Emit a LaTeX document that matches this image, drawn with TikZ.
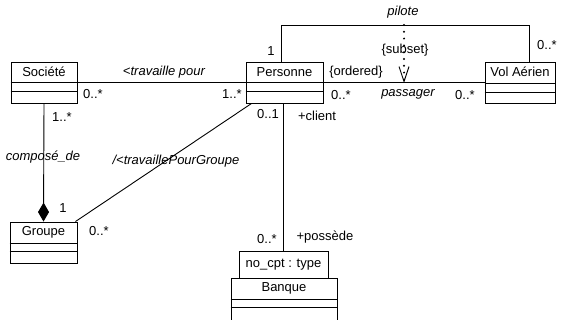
\documentclass[tikz,border=0pt]{standalone}
\usepackage{fontspec}
\setmainfont{Liberation Sans}
\usetikzlibrary{arrows.meta}
\begin{document}
\begin{tikzpicture}[x=1pt,y=-1pt,line width=0.9pt,
  every node/.style={font=\fontsize{13}{15}\selectfont, inner sep=0pt},
  umlclass/.style={draw, minimum width=#1, minimum height=41pt},
  qualbox/.style={draw, minimum width=89pt, minimum height=27pt},
  lbl/.style={font=\fontsize{13}{15}\selectfont},
  ilbl/.style={font=\fontsize{13}{15}\selectfont\itshape}]
\useasboundingbox (0,0) rectangle (565,320);

% classes: outer box, name in the top compartment, two empty compartments
\node[umlclass=66pt] (soc) at (44,82.5) {};
\node at ([yshift=-10.5pt]soc.north) {Société};
\draw ([yshift=-21pt]soc.north west) -- ([yshift=-21pt]soc.north east);
\draw ([yshift=-30pt]soc.north west) -- ([yshift=-30pt]soc.north east);

\node[umlclass=77pt] (pers) at (284.5,82.5) {};
\node at ([yshift=-10.5pt]pers.north) {Personne};
\draw ([yshift=-21pt]pers.north west) -- ([yshift=-21pt]pers.north east);
\draw ([yshift=-30pt]pers.north west) -- ([yshift=-30pt]pers.north east);

\node[umlclass=70pt] (vol) at (520,82.5) {};
\node at ([yshift=-10.5pt]vol.north) {Vol Aérien};
\draw ([yshift=-22pt]vol.north west) -- ([yshift=-22pt]vol.north east);
\draw ([yshift=-31pt]vol.north west) -- ([yshift=-31pt]vol.north east);

\node[umlclass=67pt] (grp) at (43.5,242.5) {};
\node at ([yshift=-11pt]grp.north) {Groupe};
\draw ([yshift=-22pt]grp.north west) -- ([yshift=-22pt]grp.north east);
\draw ([yshift=-30pt]grp.north west) -- ([yshift=-30pt]grp.north east);

\node[umlclass=106pt, minimum height=44pt] (banq) at (284,300) {};
\node at ([yshift=-11pt]banq.north) {Banque};
\draw ([yshift=-22pt]banq.north west) -- ([yshift=-22pt]banq.north east);
\draw ([yshift=-30pt]banq.north west) -- ([yshift=-30pt]banq.north east);

% qualifier on Banque
\node[qualbox] (qual) at (283.5,264.5) {no\_cpt : type};

% associations
\draw (soc.east) -- (pers.west);
\draw (pers.east) -- (vol.west);

\coordinate (pilL) at (281,25);
\coordinate (pilR) at (529,25);
\draw (pers.north -| pilL) -- (pilL) -- (pilR) -- (vol.north -| pilR);

\draw[-{Diamond[length=19pt,width=11pt]}] (soc.south) -- (grp.north);

\draw ([xshift=6pt]pers.south west) -- ([xshift=-2pt]grp.north east);

\draw (pers.south -| qual.north) -- (qual.north);

% subset constraint between pilote and passager
\coordinate (depS) at (404,25);
\coordinate (depE) at (404,83);
\draw[line width=2.2pt, line cap=round, dash pattern=on 0pt off 6.8pt,
  -{Straight Barb[length=15pt,width=10pt,line width=0.9pt,line cap=butt]}] (depS) -- (depE);
\node[lbl] (subs) at (405,50) {\{subset\}};

% association labels and multiplicities
\node[ilbl] (l1) at (164,72) {<travaille pour};
\node[lbl] (m1) at (93,94) {0..*};
\node[lbl] (m2) at (232,94) {1..*};
\node[lbl] (m3) at (62,117) {1..*};
\node[lbl] (m4) at (271,51) {1};
\node[lbl] (l2) at (356,72) {\{ordered\}};
\node[lbl] (m5) at (341,95) {0..*};
\node[ilbl] (l3) at (408,94) {passager};
\node[lbl] (m6) at (465,95) {0..*};
\node[ilbl] (l4) at (403,12) {pilote};
\node[lbl] (m7) at (547,45) {0..*};
\node[lbl] (m8) at (268,114) {0..1};
\node[lbl] (l5) at (317,116) {+client};
\node[ilbl] (l6) at (43,157) {composé\_de};
\node[ilbl] (l7) at (176,161) {/<travaillePourGroupe};
\node[lbl] (m9) at (63,208) {1};
\node[lbl] (m10) at (99,231) {0..*};
\node[lbl] (m11) at (267,239) {0..*};
\node[lbl] (l8) at (325,237) {+possède};
\end{tikzpicture}
\end{document}
